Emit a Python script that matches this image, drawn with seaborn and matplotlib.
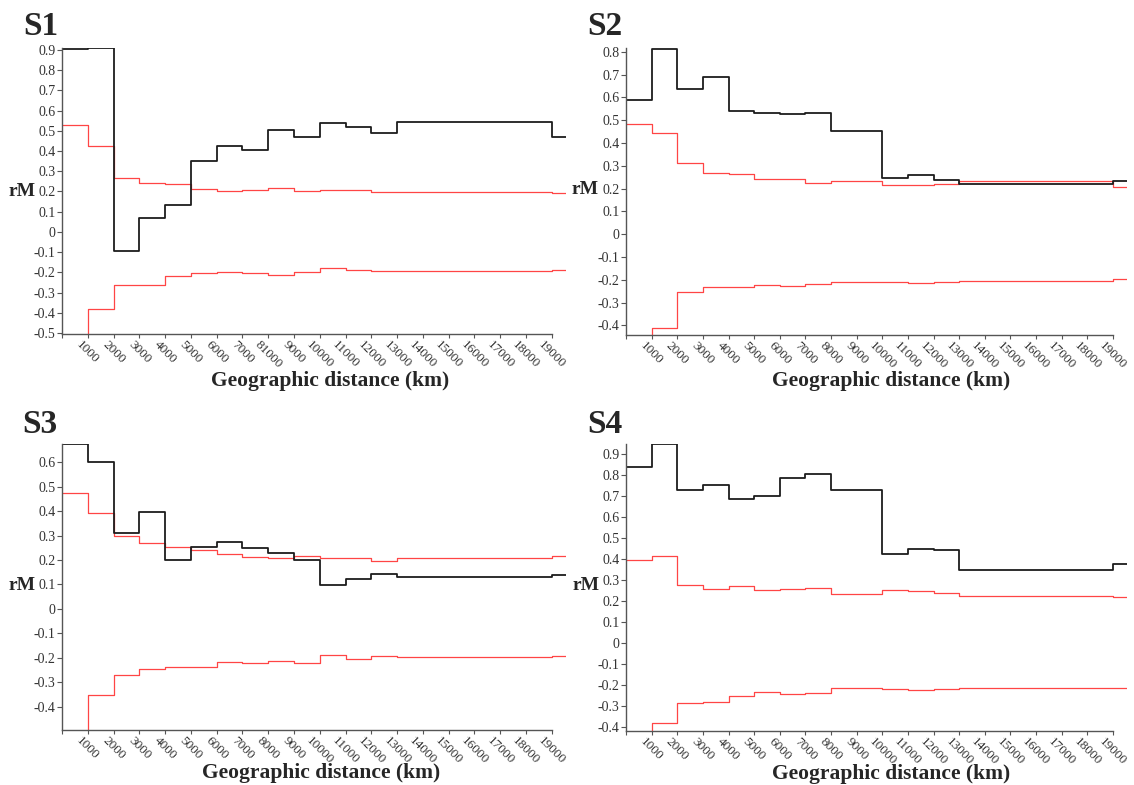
import matplotlib
matplotlib.use("Agg")
import matplotlib.pyplot as plt
import seaborn as sns
import pandas as pd

# ---------------- data ----------------
# distance classes (km): start of each class, plus end of the last class
dist_start = [0, 1000, 2000, 3000, 4000, 5000, 6000, 7000, 8000, 9000,
              10000, 11000, 12000, 13000, 14000, 15000, 16000, 17000, 18000, 19000]
dist_end = 19550

# tick labels (S1 carries the original "81000" label)
xt_s1 = ["1000", "2000", "3000", "4000", "5000", "6000", "7000", "81000", "9000",
         "10000", "11000", "12000", "13000", "14000", "15000", "16000", "17000",
         "18000", "19000"]
xt_std = ["1000", "2000", "3000", "4000", "5000", "6000", "7000", "8000", "9000",
          "10000", "11000", "12000", "13000", "14000", "15000", "16000", "17000",
          "18000", "19000"]

# S1
s1_rm = [0.903, 0.908, -0.095, 0.07, 0.133, 0.35, 0.426, 0.406, 0.502, 0.47,
         0.537, 0.517, 0.489, 0.546, 0.546, 0.546, 0.546, 0.546, 0.546, 0.47]
s1_up = [0.53, 0.423, 0.266, 0.243, 0.239, 0.21, 0.202, 0.207, 0.216, 0.202,
         0.208, 0.205, 0.199, 0.199, 0.199, 0.199, 0.199, 0.199, 0.199, 0.194]
s1_lo = [-0.6, -0.381, -0.263, -0.263, -0.22, -0.202, -0.2, -0.205, -0.212, -0.2,
         -0.18, -0.19, -0.195, -0.192, -0.192, -0.192, -0.192, -0.192, -0.192, -0.187]
s1_yt = [-0.5, -0.4, -0.3, -0.2, -0.1, 0, 0.1, 0.2, 0.3, 0.4, 0.5, 0.6, 0.7, 0.8, 0.9]

# S2
s2_rm = [0.59, 0.812, 0.635, 0.69, 0.538, 0.532, 0.526, 0.532, 0.451, 0.451,
         0.247, 0.259, 0.238, 0.222, 0.222, 0.222, 0.222, 0.222, 0.222, 0.232]
s2_up = [0.482, 0.445, 0.311, 0.268, 0.262, 0.24, 0.24, 0.223, 0.235, 0.235,
         0.217, 0.217, 0.222, 0.232, 0.232, 0.232, 0.232, 0.232, 0.232, 0.209]
s2_lo = [-0.5, -0.41, -0.254, -0.23, -0.23, -0.222, -0.225, -0.22, -0.211, -0.211,
         -0.211, -0.214, -0.211, -0.204, -0.204, -0.204, -0.204, -0.204, -0.204, -0.198]
s2_yt = [-0.4, -0.3, -0.2, -0.1, 0, 0.1, 0.2, 0.3, 0.4, 0.5, 0.6, 0.7, 0.8]

# S3
s3_rm = [0.674, 0.601, 0.312, 0.396, 0.199, 0.254, 0.275, 0.25, 0.227, 0.201,
         0.096, 0.123, 0.143, 0.13, 0.13, 0.13, 0.13, 0.13, 0.13, 0.138]
s3_up = [0.473, 0.391, 0.297, 0.269, 0.254, 0.241, 0.225, 0.212, 0.208, 0.218,
         0.21, 0.208, 0.195, 0.207, 0.207, 0.207, 0.207, 0.207, 0.207, 0.215]
s3_lo = [-0.6, -0.354, -0.269, -0.248, -0.239, -0.239, -0.216, -0.22, -0.214, -0.22,
         -0.19, -0.205, -0.194, -0.197, -0.197, -0.197, -0.197, -0.197, -0.197, -0.193]
s3_yt = [-0.4, -0.3, -0.2, -0.1, 0, 0.1, 0.2, 0.3, 0.4, 0.5, 0.6]

# S4
s4_rm = [0.838, 0.949, 0.731, 0.755, 0.685, 0.702, 0.786, 0.805, 0.731, 0.731,
         0.422, 0.449, 0.442, 0.348, 0.348, 0.348, 0.348, 0.348, 0.348, 0.378]
s4_up = [0.393, 0.415, 0.275, 0.259, 0.27, 0.25, 0.255, 0.262, 0.235, 0.235,
         0.25, 0.246, 0.24, 0.222, 0.222, 0.222, 0.222, 0.222, 0.222, 0.218]
s4_lo = [-0.5, -0.384, -0.287, -0.281, -0.255, -0.236, -0.244, -0.238, -0.216, -0.216,
         -0.222, -0.225, -0.22, -0.218, -0.218, -0.218, -0.218, -0.218, -0.218, -0.218]
s4_yt = [-0.4, -0.3, -0.2, -0.1, 0, 0.1, 0.2, 0.3, 0.4, 0.5, 0.6, 0.7, 0.8, 0.9]

panels = [
    dict(name="S1", rm=s1_rm, up=s1_up, lo=s1_lo, yt=s1_yt, xt=xt_s1),
    dict(name="S2", rm=s2_rm, up=s2_up, lo=s2_lo, yt=s2_yt, xt=xt_std),
    dict(name="S3", rm=s3_rm, up=s3_up, lo=s3_lo, yt=s3_yt, xt=xt_std),
    dict(name="S4", rm=s4_rm, up=s4_up, lo=s4_lo, yt=s4_yt, xt=xt_std),
]

# ---------------- layout (pixels) ----------------
W, H = 1134, 785
# (left, top, right_at_xlim_end, bottom, ylim_lo, ylim_hi)
boxes = [
    (62, 47.5, 566, 334, -0.505, 0.912),
    (626, 48.3, 1127, 335, -0.442, 0.815),
    (62, 444.3, 566, 729.5, -0.494, 0.674),
    (626, 444, 1127, 731, -0.421, 0.949),
]
title_pos = [(23, 35), (587, 35), (22, 433), (587, 433)]
rm_pos = [(36, 191), (599, 190), (36, 585), (600, 585)]
xl_pos = [(330, 381), (891, 381), (321, 773), (891, 774)]

sns.set_style("white")
plt.rcParams["font.family"] = ["Liberation Serif", "DejaVu Serif"]

fig = plt.figure(figsize=(W / 100, H / 100), dpi=100)

BLACK = "#1c1c1c"
RED = "#ff4545"
SPINE = "#555555"

for p, box, tp, rp, xp in zip(panels, boxes, title_pos, rm_pos, xl_pos):
    l, t, r, b, y0, y1 = box
    ax = fig.add_axes([l / W, (H - b) / H, (r - l) / W, (b - t) / H])
    x = dist_start + [dist_end]
    df = pd.DataFrame({
        "dist": x,
        "rM": p["rm"] + [p["rm"][-1]],
        "upper": p["up"] + [p["up"][-1]],
        "lower": p["lo"] + [p["lo"][-1]],
    })
    sns.lineplot(data=df, x="dist", y="upper", drawstyle="steps-post", color=RED,
                 lw=0.9, ax=ax, estimator=None, sort=False)
    sns.lineplot(data=df, x="dist", y="lower", drawstyle="steps-post", color=RED,
                 lw=0.9, ax=ax, estimator=None, sort=False)
    sns.lineplot(data=df, x="dist", y="rM", drawstyle="steps-post", color=BLACK,
                 lw=1.3, ax=ax, estimator=None, sort=False)
    ax.set_xlim(0, dist_end)
    ax.set_ylim(y0, y1)
    ax.set_xlabel("")
    ax.set_ylabel("")
    for s in ("top", "right"):
        ax.spines[s].set_visible(False)
    for s in ("left", "bottom"):
        ax.spines[s].set_color(SPINE)
        ax.spines[s].set_linewidth(1.0)
    ax.spines["bottom"].set_bounds(0, dist_start[-1])
    ax.set_xticks(dist_start)
    ax.set_xticklabels([""] + p["xt"], rotation=-45, ha="center", va="top",
                       fontsize=9.5, color="#333333")
    ax.set_yticks(p["yt"])
    ax.set_yticklabels([("%g" % v) if v != 0 else "0" for v in p["yt"]],
                       fontsize=10, color="#333333")
    ax.tick_params(axis="x", direction="out", length=3, width=0.8,
                   color=SPINE, pad=0.5, bottom=True)
    ax.tick_params(axis="y", direction="out", length=3.5, width=0.8,
                   color=SPINE, pad=1, left=True)
    ax.set_facecolor("none")

    fig.text(tp[0] / W, 1 - tp[1] / H, p["name"], fontsize=24, fontweight="bold",
             ha="left", va="baseline")
    fig.text(rp[0] / W, 1 - rp[1] / H, "rM", fontsize=14, fontweight="bold",
             ha="right", va="center")
    fig.text(xp[0] / W, 1 - xp[1] / H, "Geographic distance (km)", fontsize=15.5,
             fontweight="bold", ha="center", va="center")

fig.savefig("out.png", dpi=100)
